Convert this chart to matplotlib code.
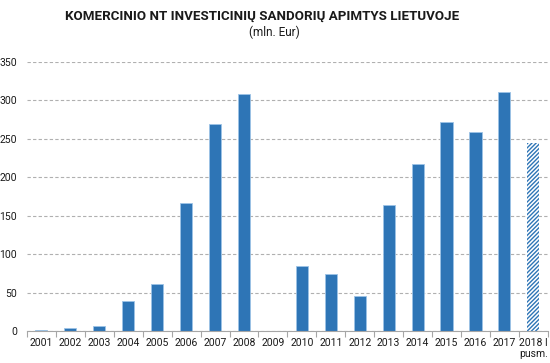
import matplotlib
matplotlib.use("Agg")
import matplotlib.pyplot as plt
import numpy as np

years = ["2001", "2002", "2003", "2004", "2005", "2006", "2007", "2008", "2009",
         "2010", "2011", "2012", "2013", "2014", "2015", "2016", "2017", "2018 I\npusm."]
values = [2, 4, 6, 39, 61, 166, 270, 308, 0, 85, 74, 46, 164, 217, 272, 259, 311, 245]
yticks = [0, 50, 100, 150, 200, 250, 300, 350]

plt.rcParams['font.family'] = ['Roboto', 'DejaVu Sans']
plt.rcParams['hatch.linewidth'] = 1.0

fig = plt.figure(figsize=(5.5, 3.63), dpi=100)
ax = fig.add_axes([0.049, 0.088, 0.947, 0.741])

x = np.arange(len(years))
blue = "#2E75B6"
for i, v in enumerate(values):
    if i == len(values) - 1:
        ax.bar(x[i], v, width=0.42, color="white", edgecolor=blue, hatch="////////", linewidth=0)
    else:
        ax.bar(x[i], v, width=0.42, color=blue, edgecolor="#9DC3E6", linewidth=0.6)

ax.set_xlim(-0.5, len(years) - 0.5)
ax.set_ylim(0, 350)
ax.set_yticks(yticks)
ax.set_yticklabels([str(t) for t in yticks], fontsize=7.5, color="#1a1a1a")
ax.yaxis.grid(True, linestyle=(0, (3, 2)), color="#B0B0B0", linewidth=0.8)
ax.set_axisbelow(True)
ax.tick_params(axis='y', length=0, pad=7)

ax.set_xticks(x)
ax.set_xticklabels(years, fontsize=7.5, linespacing=1.15, va='top', color="#1a1a1a")
ax.tick_params(axis='x', which='major', length=0, pad=5)
ax.set_xticks(np.arange(-0.5, len(years), 1), minor=True)
ax.tick_params(axis='x', which='minor', length=4, color="#A6A6A6", width=0.8)

for s in ["top", "right", "left"]:
    ax.spines[s].set_visible(False)
ax.spines["bottom"].set_color("#A6A6A6")
ax.spines["bottom"].set_linewidth(0.8)

fig.text(0.477, 0.956, "KOMERCINIO NT INVESTICINIŲ SANDORIŲ APIMTYS LIETUVOJE",
         ha="center", va="center", fontsize=9.6, fontweight="bold", color="#1a1a1a")
fig.text(0.498, 0.91, "(mln. Eur)", ha="center", va="center", fontsize=8.5, color="#1a1a1a")

fig.savefig("out.png", dpi=100)
